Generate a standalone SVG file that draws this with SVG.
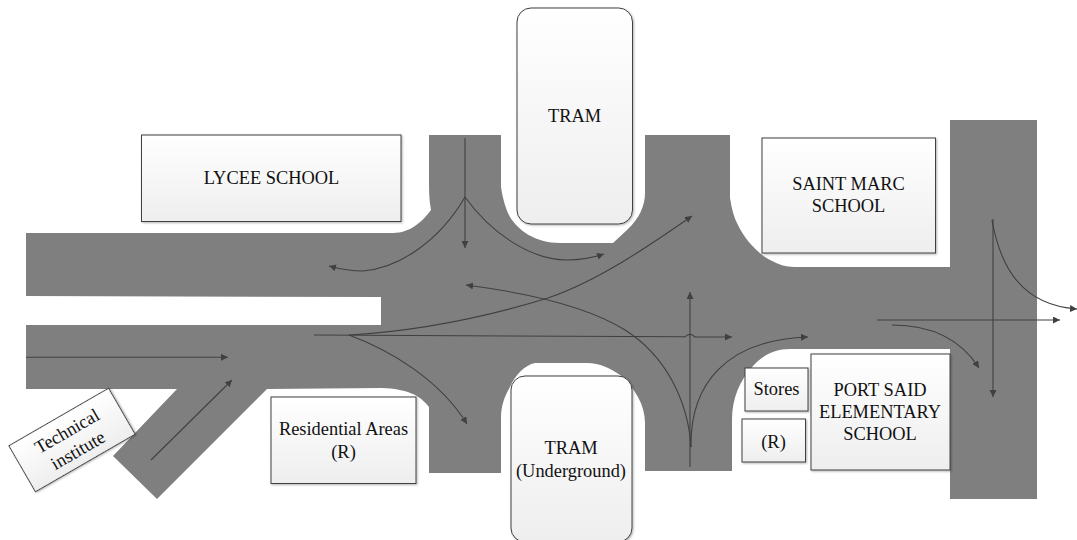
<svg xmlns="http://www.w3.org/2000/svg" width="1077" height="540" viewBox="0 0 1077 540">
<style>
.box{fill:url(#boxfill);stroke:#404040;stroke-width:1;filter:url(#shade)}
.t{font-family:"Liberation Serif","Times New Roman",serif;font-size:18.4px;fill:#111;text-anchor:middle}
.c{fill:none;stroke:#404040;stroke-width:1.1;marker-end:url(#ah)}
</style>
<defs>
<linearGradient id="boxfill" x1="0" y1="0" x2="0" y2="1"><stop offset="0" stop-color="#ffffff"/><stop offset="1" stop-color="#eeeeee"/></linearGradient>
<filter id="shade" x="-5%" y="-5%" width="110%" height="110%"><feDropShadow dx="1" dy="1" stdDeviation="0.8" flood-color="#000" flood-opacity="0.3"/></filter>
<marker id="ah" markerUnits="userSpaceOnUse" markerWidth="8" markerHeight="8" refX="7" refY="3.500" orient="auto"><path d="M0 0L7 3.500L0 7z" fill="#404040"/></marker>
</defs>
<g id="road">
<path fill="#7f7f7f" d="M26 233L393 233C410 233 422 222 431 210C429 200 429 190 429 180L429 135L501 135L501 187C503 200 506 210 510 217C518 230 535 243 560 243L613 243L627 230C640 218 645 205 645 193L645 135L730 135L730 198C732 210 734 217 737 223C744 238 753 248 765 257C775 263 783 267 795 267L950 267L950 120L1037 120L1037 499L950 499L950 349L790 349C775 349 763 355 753 366C740 380 732 398 732 420L732 471L645 471L645 423C645 405 635 388 620 375C610 368 600 363 587 363L535 363C525 365 515 375 510 387C504 397 501 407 501 417L501 473L429 473L429 407C420 395 407 389 382 388L267 389L157 499L113 456L177 389L26 389L26 325L381 325L381 297L26 296Z"/>
</g>
<g id="connectors">
<path class="c" d="M26 357.300H228"/>
<path class="c" d="M151 460L232 380"/>
<path class="c" d="M314 335L685 336.800Q690 332 695 337L732 337"/>
<path class="c" d="M349 335C400 332 470 322 548 298C600 280 650 245 692 216"/>
<path class="c" d="M349 335C390 350 440 380 467 424"/>
<path class="c" d="M465 138V248"/>
<path class="c" d="M465 197C440 240 400 268 363 271C350 271 340 269 329 266"/>
<path class="c" d="M465 197C490 232 530 260 567 260C580 260 592 258 604 254"/>
<path class="c" d="M691 447C688 400 665 355 625 330C585 305 520 292 466 285"/>
<path class="c" d="M690 467V292"/>
<path class="c" d="M691 447C690 385 725 340 808 337"/>
<path class="c" d="M877 320H1060"/>
<path class="c" d="M892 325C930 325 960 338 979 368"/>
<path class="c" d="M993 219V397"/>
<path class="c" d="M992 220C1000 265 1020 305 1077 309"/>
</g>
<g id="lycee"><rect class="box" x="141.500" y="135" width="259.500" height="86.500"/><text class="t" x="271.500" y="184">LYCEE SCHOOL</text></g>
<g id="tram"><rect class="box" x="517" y="8" width="115.500" height="216" rx="14"/><text class="t" x="574.500" y="122">TRAM</text></g>
<g id="saint-marc"><rect class="box" x="762" y="138" width="173.500" height="115"/><text class="t" x="848.500" y="190">SAINT MARC</text><text class="t" x="848.500" y="212">SCHOOL</text></g>
<g id="residential"><rect class="box" x="271" y="397" width="145" height="86.500"/><text class="t" x="343.500" y="435">Residential Areas</text><text class="t" x="343.500" y="458">(R)</text></g>
<g id="tram-underground"><rect class="box" x="511" y="376" width="121" height="166" rx="14"/><text class="t" x="571" y="454">TRAM</text><text class="t" x="571" y="477">(Underground)</text></g>
<g id="stores"><rect class="box" x="745" y="368" width="63" height="43"/><text class="t" x="776.500" y="395">Stores</text></g>
<g id="r"><rect class="box" x="742" y="419" width="63.500" height="43"/><text class="t" x="773.500" y="448">(R)</text></g>
<g id="port-said"><rect class="box" x="811" y="354" width="139" height="116"/><text class="t" x="880" y="396">PORT SAID</text><text class="t" x="880" y="418">ELEMENTARY</text><text class="t" x="880" y="440">SCHOOL</text></g>
<g id="technical" transform="translate(72 440) rotate(-30)"><rect class="box" x="-57.500" y="-26.500" width="115" height="53"/><text class="t" x="0" y="-4">Technical</text><text class="t" x="0" y="18">institute</text></g>
</svg>
